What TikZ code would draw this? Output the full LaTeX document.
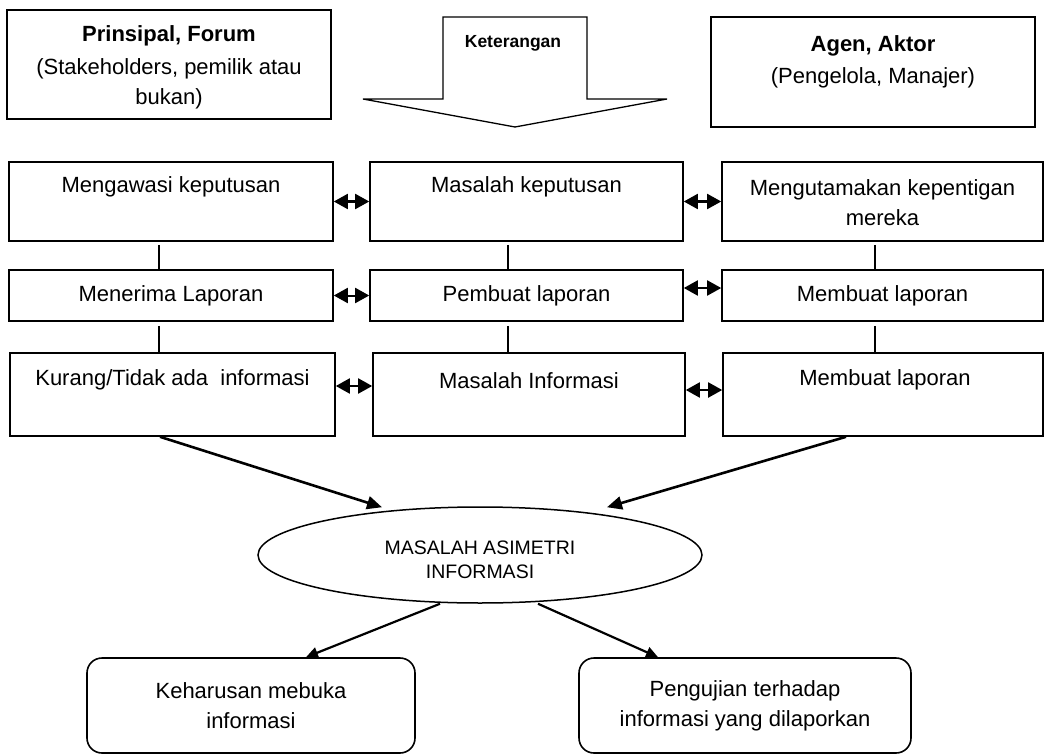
\documentclass[tikz,border=0pt]{standalone}
\usepackage{fontspec}
\setmainfont{Liberation Sans}
\usetikzlibrary{arrows.meta,shapes.geometric}
\tikzset{
	kotak/.style={draw, line width=1.6pt, inner sep=0pt},
	tulisan/.style={font=\fontsize{22}{30}\selectfont, align=center, inner sep=0pt},
	dua/.style={{Triangle[length=14pt,width=15pt]}-{Triangle[length=14pt,width=15pt]}, line width=2pt},
	garis/.style={line width=1.2pt},
	panah/.style={-{Triangle[length=15pt,width=13pt]}, line width=2.6pt},
	panahkecil/.style={-{Triangle[length=12pt,width=11pt]}, line width=2.2pt},
}

\begin{document}
\begin{tikzpicture}[x=1pt,y=-1pt]
			%%%%% START %%%%%
			\useasboundingbox (0,0) rectangle (1046,754);
			
			\node[kotak, minimum width=324pt, minimum height=109pt] (prinsipal) at (169,64.5) {};
			\node[tulisan] (prinsipal-t) at ([yshift=-3pt]prinsipal.center) {\textbf{Prinsipal, Forum}\\[3pt](Stakeholders, pemilik atau\\bukan)};
			
			\draw[line width=1.3pt] (443,17) -- (587,17) -- (587,99) -- (667,99) -- (515,127) -- (363,99) -- (443,99) -- cycle;
			\node[font=\fontsize{17.5}{20}\selectfont\bfseries, inner sep=0pt] (ket) at (513,43) {Keterangan};
			
			\node[kotak, minimum width=324pt, minimum height=110pt] (agen) at (873,72) {};
			\node[tulisan] (agen-t) at ([yshift=10pt]agen.center) {\textbf{Agen, Aktor}\\[2pt](Pengelola, Manajer)};
			
			%%%%% BARIS 1 %%%%%
			\node[kotak, minimum width=324pt, minimum height=79pt] (awasi) at (171,201.5) {};
			\node[kotak, minimum width=313pt, minimum height=79pt] (masalahkep) at (526.5,201.5) {};
			\node[kotak, minimum width=321pt, minimum height=79pt] (utama) at (882.5,201.5) {};
			\node[tulisan] (awasi-t) at ([yshift=-26pt]awasi.north) {Mengawasi keputusan};
			\node[tulisan] (masalahkep-t) at ([yshift=-26pt]masalahkep.north) {Masalah keputusan};
			\node[tulisan] (utama-t) at ([yshift=-41pt]utama.north) {Mengutamakan kepentigan\\mereka};
			
			%%%%% BARIS 2 %%%%%
			\node[kotak, tulisan, minimum width=324pt, minimum height=51pt] (terima) at (171,295.5) {Menerima Laporan};
			\node[kotak, tulisan, minimum width=313pt, minimum height=51pt] (pembuat) at (526.5,295.5) {Pembuat laporan};
			\node[kotak, tulisan, minimum width=321pt, minimum height=51pt] (membuat) at (882.5,295.5) {Membuat laporan};
			
			%%%%% BARIS 3 %%%%%
			\node[kotak, minimum width=325pt, minimum height=83pt] (kurang) at (172.5,394.5) {};
			\node[kotak, minimum width=312pt, minimum height=83pt] (masalahinf) at (529,394.5) {};
			\node[kotak, minimum width=320pt, minimum height=83pt] (membuat2) at (883,394.5) {};
			\node[tulisan] (kurang-t) at ([yshift=-28pt]kurang.north) {Kurang/Tidak ada~ informasi};
			\node[tulisan] (masalahinf-t) at ([yshift=-28pt]masalahinf.north) {Masalah Informasi};
			\node[tulisan] (membuat2-t) at ([yshift=-28pt,xshift=2pt]membuat2.north) {Membuat laporan};
			
			\draw[dua] (awasi.east) -- (masalahkep.west);
			\draw[dua] (masalahkep.east) -- (utama.west);
			\draw[dua] (terima.east) -- (pembuat.west);
			\draw[dua] ([yshift=7.5pt]pembuat.east) -- ([yshift=7.5pt]membuat.west);
			\draw[dua] ([yshift=8.5pt]kurang.east) -- ([yshift=8.5pt]masalahinf.west);
			\draw[dua] ([yshift=4.5pt]masalahinf.east) -- ([yshift=4.5pt]membuat2.west);
			
			\draw[garis] ([xshift=-12pt,yshift=-3pt]awasi.south) -- ([xshift=-12pt]terima.north);
			\draw[garis] ([xshift=-12pt,yshift=-4pt]terima.south) -- ([xshift=-13.5pt]kurang.north);
			\draw[garis] ([xshift=-18.5pt,yshift=-3pt]masalahkep.south) -- ([xshift=-18.5pt]pembuat.north);
			\draw[garis] ([xshift=-18.5pt,yshift=-4pt]pembuat.south) -- ([xshift=-21pt]masalahinf.north);
			\draw[garis] ([xshift=-7.5pt,yshift=-3pt]utama.south) -- ([xshift=-7.5pt]membuat.north);
			\draw[garis] ([xshift=-7.5pt,yshift=-4pt]membuat.south) -- ([xshift=-8pt]membuat2.north);
			
			%%%%% BAWAH %%%%%
			\node[draw, ellipse, line width=1.5pt, inner sep=0pt, minimum width=444pt, minimum height=96pt] (asimetri) at (480,555) {};
			\node[font=\fontsize{19.5}{24}\selectfont, align=center, inner sep=0pt] (asimetri-t) at ([yshift=-5pt]asimetri.center) {MASALAH ASIMETRI\\INFORMASI};
			
			\draw[panah] ([xshift=-12.5pt]kurang.south) -- ([xshift=-98pt,yshift=-1pt]asimetri.north);
			\draw[panah] ([xshift=-37pt]membuat2.south) -- ([xshift=127pt,yshift=-1pt]asimetri.north);
			
			\node[kotak, tulisan, rounded corners=15pt, minimum width=328pt, minimum height=95pt] (keharusan) at (251,705.5) {Keharusan mebuka\\informasi};
			\node[kotak, tulisan, rounded corners=15pt, minimum width=332pt, minimum height=95pt] (pengujian) at (745,705.5) {Pengujian terhadap\\informasi yang dilaporkan};
			
			\draw[panahkecil] ([xshift=-40pt]asimetri.south) -- ([xshift=55pt]keharusan.north);
			\draw[panahkecil] ([xshift=58pt]asimetri.south) -- ([xshift=-87pt]pengujian.north);
			
			%%%%% END %%%%%
\end{tikzpicture}
\end{document}
